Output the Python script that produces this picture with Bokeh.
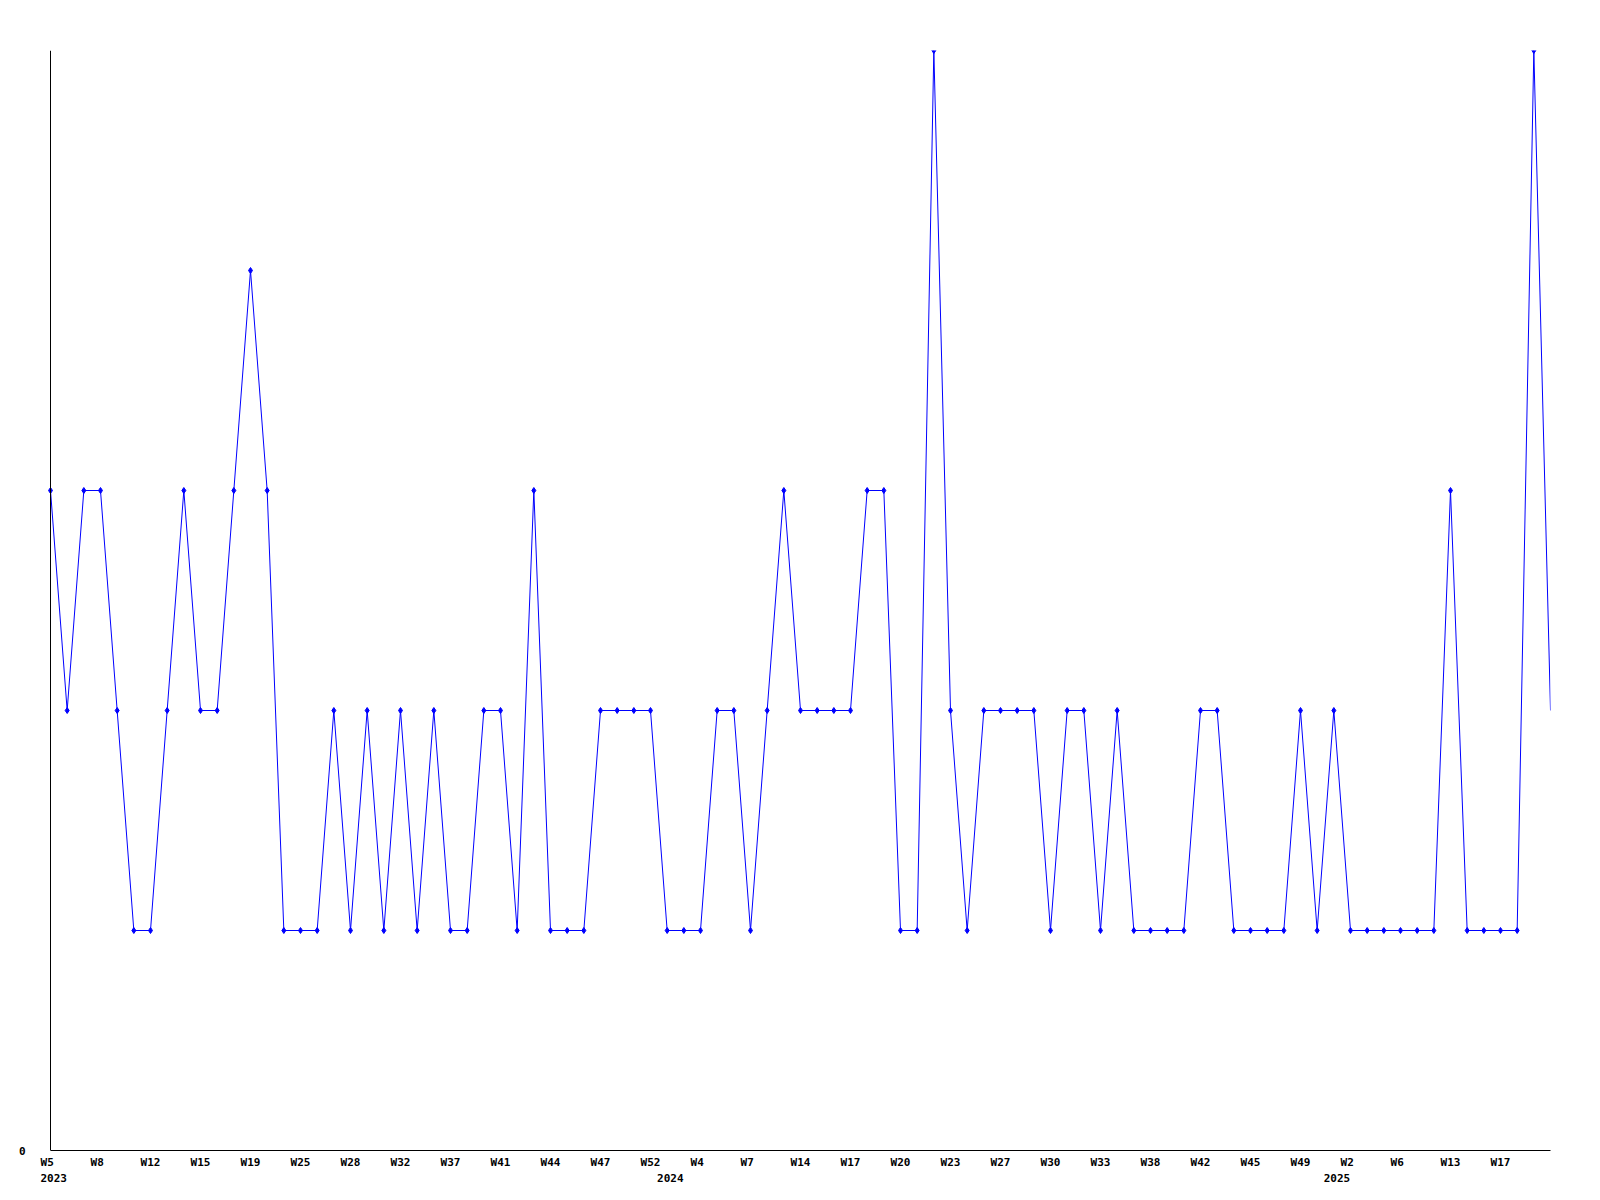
from bokeh.plotting import figure
from bokeh.models import (Range1d, LinearAxis, FixedTicker, ColumnDataSource, Span)
from bokeh.embed import file_html
from bokeh.resources import INLINE

# --- data ---------------------------------------------------------------
weeks = [
    "W5", "W6", "W7", "W8", "W10", "W11", "W12", "W13", "W14", "W15",
    "W16", "W18", "W19", "W20", "W22", "W25", "W26", "W27", "W28", "W29",
    "W31", "W32", "W34", "W36", "W37", "W38", "W40", "W41", "W42", "W43",
    "W44", "W45", "W46", "W47", "W49", "W51", "W52",
    "W1", "W3", "W4", "W5", "W6", "W7", "W9", "W11", "W14", "W15", "W16",
    "W17", "W18", "W19", "W20", "W21", "W22", "W23", "W24", "W26", "W27",
    "W28", "W29", "W30", "W31", "W32", "W33", "W35", "W36", "W38", "W39",
    "W41", "W42", "W43", "W44", "W45", "W46", "W48", "W49", "W51",
    "W1", "W2", "W3", "W5", "W6", "W8", "W11", "W13", "W14", "W16", "W17",
    "W18", "W19", "W20",
]
years = ["2023", "2024", "2025"]
year_start = [0, 37, 77]          # index of first week of each year

values = [
    3, 2, 3, 3, 2, 1, 1, 2, 3, 2,
    2, 3, 4, 3, 1, 1, 1, 2, 1, 2,
    1, 2, 1, 2, 1, 1, 2, 2, 1, 3,
    1, 1, 1, 2, 2, 2, 2, 1, 1, 1,
    2, 2, 1, 2, 3, 2, 2, 2, 2, 3,
    3, 1, 1, 5, 2, 1, 2, 2, 2, 2,
    1, 2, 2, 1, 2, 1, 1, 1, 1, 2,
    2, 1, 1, 1, 1, 2, 1, 2, 1, 1,
    1, 1, 1, 1, 3, 1, 1, 1, 1, 5,
    2,
]
label_every = 3

# --- geometry -----------------------------------------------------------
UNIT = 100                 # x units per data point
n = len(values)
x = [i * UNIT for i in range(n)]
X_MAX = (n - 1) * UNIT
PLOT_W = 1500              # pixels from first to last point
PX = UNIT * (n - 1) / PLOT_W   # units per pixel
EXTRA = 14                 # frame starts this many px left of first point
CHAR_W = 6.62              # width of one label character in px

FONT = "DejaVu Sans Mono"
BLUE = "#0000ff"

def label_pos(i, text):
    # label text starts 10px left of its point; axis centres it on the tick
    return int(round(i * UNIT + (-10 + len(text) * CHAR_W / 2) * PX))

p = figure(width=1592, height=1192, output_backend="svg", toolbar_location=None,
           x_range=Range1d(-EXTRA * PX, X_MAX), y_range=Range1d(0, 5),
           x_axis_location=None, y_axis_location=None,
           min_border_left=50 - EXTRA, min_border_top=50, min_border_right=42,
           min_border_bottom=42)
p.frame_width = PLOT_W + EXTRA
p.frame_height = 1100
p.xgrid.visible = False
p.ygrid.visible = False
p.outline_line_color = None
p.background_fill_color = "white"
p.border_fill_color = "white"

# y axis line at the first point
p.add_layout(Span(location=0, dimension="height", line_color="black", line_width=1))

src = ColumnDataSource(dict(x=x, y=values))
p.line("x", "y", source=src, line_color=BLUE, line_width=1)
msrc = ColumnDataSource(dict(x=x[:-1], y=values[:-1]))
p.scatter("x", "y", source=msrc, marker="diamond", size=6,
          fill_color=BLUE, line_color=BLUE)

def style_axis(ax):
    ax.major_tick_line_color = None
    ax.minor_tick_line_color = None
    ax.major_tick_out = 0
    ax.major_tick_in = 0
    ax.major_label_text_font = FONT
    ax.major_label_text_font_size = "11px"
    ax.major_label_text_font_style = "bold"
    ax.major_label_text_color = "black"

# plain x axis line (no labels)
lax = LinearAxis(ticker=FixedTicker(ticks=[]))
style_axis(lax)
lax.major_label_text_font_size = "0px"
lax.major_label_standoff = 0
lax.axis_line_color = "black"
lax.bounds = (0, X_MAX)
p.add_layout(lax, "below")

# week labels
label_idx = list(range(0, n - 1, label_every))
wticks = [label_pos(i, weeks[i]) for i in label_idx]
wax = LinearAxis(ticker=FixedTicker(ticks=wticks),
                 major_label_overrides={t: weeks[i] for t, i in zip(wticks, label_idx)})
style_axis(wax)
wax.major_label_standoff = 5
wax.axis_line_color = None
p.add_layout(wax, "below")

# year labels
yticks = [label_pos(i, yr) for i, yr in zip(year_start, years)]
yax = LinearAxis(ticker=FixedTicker(ticks=yticks),
                 major_label_overrides={t: yr for t, yr in zip(yticks, years)})
style_axis(yax)
yax.major_label_standoff = 2
yax.axis_line_color = None
p.add_layout(yax, "below")

# value axis label ("0")
vax = LinearAxis(ticker=FixedTicker(ticks=[0]))
style_axis(vax)
vax.major_label_standoff = 25 - EXTRA
vax.axis_line_color = None
p.add_layout(vax, "left")

open("out.html", "w").write(file_html(p, INLINE))
